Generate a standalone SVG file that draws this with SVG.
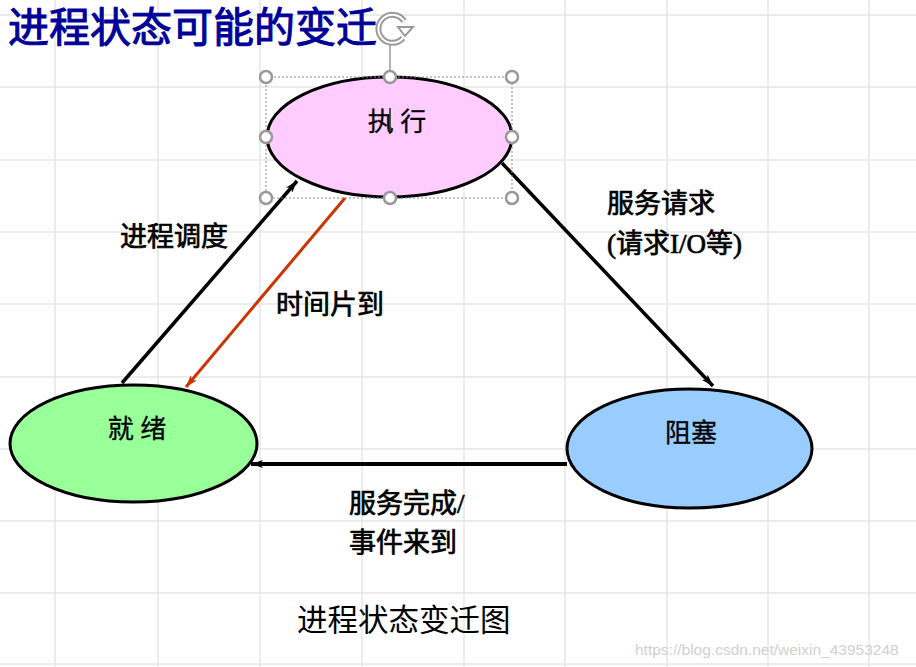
<svg xmlns="http://www.w3.org/2000/svg" width="916" height="667" viewBox="0 0 916 667">
<style>
.grid line{stroke:#e6e6e6;stroke-width:1.5}
.node ellipse{stroke:#000;stroke-width:3}
.ntext{font-family:"Liberation Serif","Noto Sans CJK SC",serif;font-size:26px;fill:#000;text-anchor:middle;stroke:#000;stroke-width:0.3}
.lbl{font-family:"Liberation Serif","Noto Sans CJK SC",serif;font-size:27px;fill:#000;stroke:#000;stroke-width:0.7}
.handle{fill:#fff;stroke:#999;stroke-width:2.5}
</style>
<defs>
<marker id="ah" viewBox="0 0 12 8" refX="12" refY="4" markerWidth="12" markerHeight="8" markerUnits="userSpaceOnUse" orient="auto">
<path d="M0,0 L12,4 L0,8 L3,4 Z" fill="#000"/>
</marker>
<marker id="ahr" viewBox="0 0 12 8" refX="12" refY="4" markerWidth="12" markerHeight="8" markerUnits="userSpaceOnUse" orient="auto">
<path d="M0,0 L12,4 L0,8 L3,4 Z" fill="#cc3300"/>
</marker>
</defs>
<rect width="916" height="667" fill="#fff"/>
<g class="grid">
<line x1="55" y1="0" x2="55" y2="667"/>
<line x1="158" y1="0" x2="158" y2="667"/>
<line x1="260" y1="0" x2="260" y2="667"/>
<line x1="362" y1="0" x2="362" y2="667"/>
<line x1="464" y1="0" x2="464" y2="667"/>
<line x1="565" y1="0" x2="565" y2="667"/>
<line x1="667" y1="0" x2="667" y2="667"/>
<line x1="768" y1="0" x2="768" y2="667"/>
<line x1="869" y1="0" x2="869" y2="667"/>
<line x1="0" y1="15" x2="916" y2="15"/>
<line x1="0" y1="87" x2="916" y2="87"/>
<line x1="0" y1="160" x2="916" y2="160"/>
<line x1="0" y1="232" x2="916" y2="232"/>
<line x1="0" y1="304" x2="916" y2="304"/>
<line x1="0" y1="377" x2="916" y2="377"/>
<line x1="0" y1="449" x2="916" y2="449"/>
<line x1="0" y1="521" x2="916" y2="521"/>
<line x1="0" y1="593" x2="916" y2="593"/>
<line x1="0" y1="664" x2="916" y2="664"/>
</g>
<text x="8" y="42" font-family="Liberation Serif,'Noto Sans CJK SC',serif" font-size="41" fill="#000099" stroke="#000099" stroke-width="1">进程状态可能的变迁</text>
<g id="node-exec" class="node">
<ellipse cx="389.5" cy="137" rx="122.5" ry="60" fill="#ffccff"/>
<text class="ntext" x="397" y="131">执 行</text>
<line x1="390" y1="108" x2="390" y2="134" stroke="#003300" stroke-width="1.5"/>
</g>
<g id="node-ready" class="node">
<ellipse cx="133.5" cy="443.5" rx="123.5" ry="58.5" fill="#99ff99"/>
<text class="ntext" x="137" y="438">就 绪</text>
</g>
<g id="node-blocked" class="node">
<ellipse cx="689.5" cy="448.5" rx="122.5" ry="59.5" fill="#99ccff"/>
<text class="ntext" x="691" y="442">阻塞</text>
</g>
<g id="connectors" fill="none" stroke-width="3.5">
<line x1="122" y1="383" x2="297" y2="181" stroke="#000" marker-end="url(#ah)"/>
<line x1="345" y1="198" x2="186" y2="387" stroke="#cc3300" stroke-width="3" marker-end="url(#ahr)"/>
<line x1="502" y1="163" x2="713" y2="386" stroke="#000" marker-end="url(#ah)"/>
<line x1="567" y1="464" x2="251" y2="464" stroke="#000" stroke-width="4" marker-end="url(#ah)"/>
</g>
<g id="labels">
<text class="lbl" x="120" y="246">进程调度</text>
<text class="lbl" x="276" y="314">时间片到</text>
<text class="lbl" x="607" y="213">服务请求</text>
<text class="lbl" x="607" y="253">(请求I/O等)</text>
<text class="lbl" x="349" y="513">服务完成/</text>
<text class="lbl" x="349" y="552">事件来到</text>
</g>
<g id="selection">
<line x1="390" y1="44" x2="390" y2="71" stroke="#999" stroke-width="1.5"/>
<path d="M403,38 A14,14 0 1 1 404,21" fill="none" stroke="#999" stroke-width="6"/>
<path d="M403,38 A14,14 0 1 1 404,21" fill="none" stroke="#fff" stroke-width="2"/>
<path d="M398,27 L413,27 L405,36 Z" fill="#fff" stroke="#999" stroke-width="2"/>
<rect x="266" y="77" width="246" height="121" fill="none" stroke="#888" stroke-width="1" stroke-dasharray="2,2"/>
<circle class="handle" cx="266" cy="77" r="6"/>
<circle class="handle" cx="390" cy="77" r="6"/>
<circle class="handle" cx="512" cy="77" r="6"/>
<circle class="handle" cx="266" cy="137" r="6"/>
<circle class="handle" cx="512" cy="137" r="6"/>
<circle class="handle" cx="266" cy="198" r="6"/>
<circle class="handle" cx="390" cy="198" r="6"/>
<circle class="handle" cx="512" cy="198" r="6"/>
</g>
<text x="297" y="631" font-family="Liberation Serif,'Noto Sans CJK SC',serif" font-size="30.5" fill="#000">进程状态变迁图</text>
<text x="635" y="655" font-family="Liberation Sans,Arial,sans-serif" font-size="15.5" fill="#d0d0d0">https://blog.csdn.net/weixin_43953248</text>
</svg>
